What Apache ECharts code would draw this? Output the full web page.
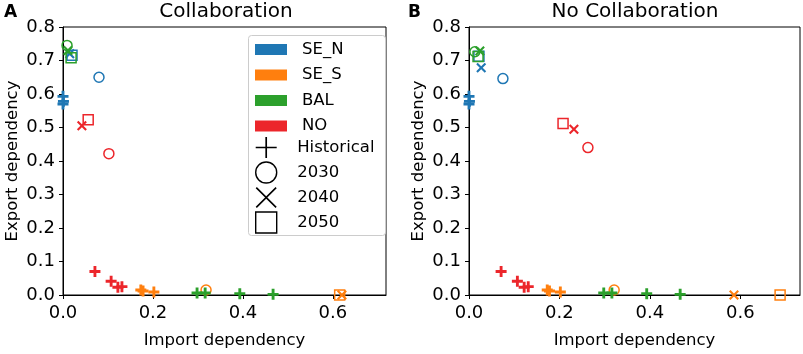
<!DOCTYPE html>
<html>
<head>
<meta charset="utf-8">
<script src="https://cdn.jsdelivr.net/npm/echarts@6/dist/echarts.min.js"></script>
<style>
  html, body { margin: 0; padding: 0; background: #fff; }
  #chart { width: 803px; height: 354px; }
</style>
</head>
<body>
<div id="chart"></div>
<script>
// regions and legend entries
const regions = ['SE_N', 'SE_S', 'BAL', 'NO'];
const regionColors = ['#1f77b4', '#ff7f0e', '#2ca02c', '#ec262b'];
const markerNames = ['Historical', '2030', '2040', '2050'];
const xTicks = [0, 0.2, 0.4, 0.6];

// historical points [import, export] (same in both panels)
const histSE_N = [[0.0, 0.593], [0.001, 0.578], [0.0, 0.570]];
const histSE_S = [[0.173, 0.015], [0.178, 0.012], [0.202, 0.009]];
const histBAL = [[0.298, 0.006], [0.316, 0.006], [0.393, 0.004], [0.467, 0.002]];
const histNO = [[0.071, 0.070], [0.107, 0.041], [0.122, 0.023], [0.131, 0.025]];

// scenario points: 2030, 2040, 2050
const collabSE_N = [[0.080, 0.650], [0.015, 0.720], [0.020, 0.716]];
const collabSE_S = [[0.318, 0.015], [0.620, 0.0], [0.615, 0.0]];
const collabBAL = [[0.009, 0.745], [0.011, 0.730], [0.018, 0.708]];
const collabNO = [[0.102, 0.422], [0.042, 0.505], [0.056, 0.523]];

const nocolSE_N = [[0.075, 0.646], [0.027, 0.678], [0.022, 0.713]];
const nocolSE_S = [[0.321, 0.015], [0.586, 0.0], [0.688, 0.0]];
const nocolBAL = [[0.013, 0.726], [0.024, 0.728], [0.020, 0.712]];
const nocolNO = [[0.263, 0.440], [0.232, 0.495], [0.208, 0.512]];

const plusThick = 'path://M7.4,0H12.6V7.4H20V12.6H12.6V20H7.4V12.6H0V7.4H7.4Z';
const crossThick = 'path://M0,3L3,0L10,7L17,0L20,3L13,10L20,17L17,20L10,13L3,20L0,17L7,10Z';
const plusThin = 'path://M9.2,0H10.8V9.2H20V10.8H10.8V20H9.2V10.8H0V9.2H9.2Z';
const crossThin = 'path://M0,1.1L1.1,0L10,8.9L18.9,0L20,1.1L11.1,10L20,18.9L18.9,20L10,11.1L1.1,20L0,18.9L8.9,10Z';
const squareOpen = 'path://M0,0H20V20H0Z';

const FONT = 'DejaVu Sans';

function points(hist, scen, color) {
  const items = hist.map((p) => ({
    value: p, symbol: plusThick, symbolSize: 11,
    itemStyle: { color, borderWidth: 0, opacity: 1 },
  }));
  const shapes = ['circle', crossThick, 'rect'];
  scen.forEach((p, i) => {
    const hollow = i !== 1;
    items.push({
      value: p,
      symbol: shapes[i],
      symbolSize: 10,
      itemStyle: hollow
        ? { color: 'rgba(0,0,0,0)', borderColor: color, borderWidth: 1.5, opacity: 1 }
        : { color, borderWidth: 0, opacity: 1 },
    });
  });
  return items;
}

const panels = [
  [collabSE_N, collabSE_S, collabBAL, collabNO],
  [nocolSE_N, nocolSE_S, nocolBAL, nocolNO],
];
const hists = [histSE_N, histSE_S, histBAL, histNO];

const series = [];
panels.forEach((scen, p) => {
  regions.forEach((name, r) => {
    series.push({
      name,
      type: 'scatter',
      xAxisIndex: p,
      yAxisIndex: p,
      itemStyle: { color: regionColors[r], opacity: 1 },
      data: points(hists[r], scen[r], regionColors[r]),
    });
  });
});
// dummy series for the marker legend
markerNames.forEach((name) => {
  series.push({ name, type: 'scatter', xAxisIndex: 0, yAxisIndex: 0, data: [],
    itemStyle: { color: '#000', opacity: 1 } });
});

const blackLine = { lineStyle: { color: '#000', width: 1 } };

function xAxis(idx, max) {
  return {
    gridIndex: idx, type: 'value', min: 0, max,
    name: 'Import dependency', nameLocation: 'middle', nameGap: 37,
    nameTextStyle: { fontFamily: FONT, fontSize: 16.5, color: '#000' },
    axisLine: { show: true, onZero: false, ...blackLine },
    axisTick: { show: true, length: 4, customValues: xTicks, ...blackLine },
    axisLabel: { customValues: xTicks, margin: 9, fontFamily: FONT, fontSize: 18, color: '#000',
      formatter: (v) => v.toFixed(1) },
    splitLine: { show: false },
  };
}
function yAxis(idx) {
  return {
    gridIndex: idx, type: 'value', min: 0, max: 0.8, interval: 0.1,
    name: 'Export dependency', nameLocation: 'middle', nameGap: 42,
    nameTextStyle: { fontFamily: FONT, fontSize: 16.5, color: '#000' },
    axisLine: { show: true, onZero: false, ...blackLine },
    axisTick: { show: true, length: 4, ...blackLine },
    axisLabel: { margin: 8, fontFamily: FONT, fontSize: 18, color: '#000',
      formatter: (v) => v.toFixed(1) },
    splitLine: { show: false },
  };
}

const chart = echarts.init(document.getElementById('chart'), null, { renderer: 'canvas' });
chart.setOption({
  backgroundColor: '#fff',
  animation: false,
  title: [
    { text: 'Collaboration', left: 226, top: 2, textAlign: 'center', padding: 0,
      textStyle: { fontFamily: FONT, fontSize: 20, fontWeight: 'normal', color: '#000' } },
    { text: 'No Collaboration', left: 635, top: 2, textAlign: 'center', padding: 0,
      textStyle: { fontFamily: FONT, fontSize: 20, fontWeight: 'normal', color: '#000' } },
    { text: 'A', left: 4, top: 4, padding: 0,
      textStyle: { fontFamily: FONT, fontSize: 17, fontWeight: 'bold', color: '#000' } },
    { text: 'B', left: 408, top: 4, padding: 0,
      textStyle: { fontFamily: FONT, fontSize: 17, fontWeight: 'bold', color: '#000' } },
  ],
  grid: [
    { left: 63, top: 27, width: 323, height: 275, show: true, borderColor: '#000', borderWidth: 1 },
    { left: 469, top: 27, width: 331, height: 275, show: true, borderColor: '#000', borderWidth: 1 },
  ],
  xAxis: [xAxis(0, 0.718), xAxis(1, 0.732)],
  yAxis: [yAxis(0), yAxis(1)],
  graphic: [{
    type: 'rect', z: 3,
    shape: { x: 248.5, y: 35.5, width: 137, height: 200, r: 3 },
    style: { fill: 'rgba(255,255,255,0.8)', stroke: '#cccccc', lineWidth: 1 },
  }],
  legend: [
    {
      left: 255, top: 41, orient: 'vertical', padding: 0,
      itemWidth: 32, itemHeight: 11, itemGap: 8.5, selectedMode: false,
      textStyle: { fontFamily: FONT, fontSize: 16.5, color: '#000', padding: [0, 0, 0, 10] },
      data: regions.map((name, i) => ({
        name, icon: 'rect', itemStyle: { color: regionColors[i], borderWidth: 0, opacity: 1 },
      })),
    },
    {
      left: 255, top: 137, orient: 'vertical', padding: 0,
      itemWidth: 32, itemHeight: 21, itemGap: 3.3, selectedMode: false,
      textStyle: { fontFamily: FONT, fontSize: 16.5, color: '#000', padding: [0, 0, 0, 10] },
      data: [
        { name: markerNames[0], icon: plusThin, itemStyle: { color: '#000', borderWidth: 0, opacity: 1 } },
        { name: markerNames[1], icon: 'circle',
          itemStyle: { color: 'rgba(0,0,0,0)', borderColor: '#000', borderWidth: 1.4, opacity: 1 } },
        { name: markerNames[2], icon: crossThin, itemStyle: { color: '#000', borderWidth: 0, opacity: 1 } },
        { name: markerNames[3], icon: squareOpen,
          itemStyle: { color: 'rgba(0,0,0,0)', borderColor: '#000', borderWidth: 1.4, opacity: 1 } },
      ],
    },
  ],
  series,
});
</script>
</body>
</html>
